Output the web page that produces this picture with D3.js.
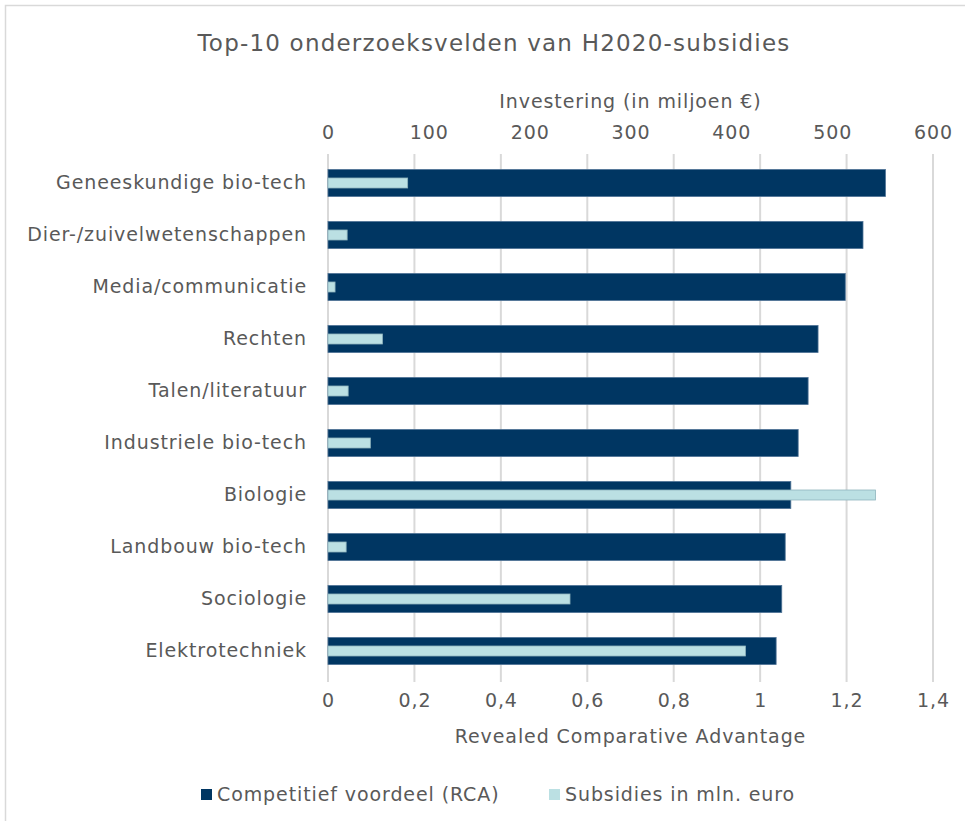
<!DOCTYPE html>
<html>
<head>
<meta charset="utf-8">
<script src="https://cdn.jsdelivr.net/npm/d3@7"></script>
<style>
  body { margin: 0; background: #ffffff; }
  text { font-family: "DejaVu Sans", Verdana, sans-serif; fill: #595959; }
</style>
</head>
<body>
<div id="plot"></div>
<script>
// Top-10 onderzoeksvelden, RCA + H2020 subsidies

var categories = [
  "Geneeskundige bio-tech",
  "Dier-/zuivelwetenschappen",
  "Media/communicatie",
  "Rechten",
  "Talen/literatuur",
  "Industriele bio-tech",
  "Biologie",
  "Landbouw bio-tech",
  "Sociologie",
  "Elektrotechniek"
];
var rcaValues = [1.29, 1.238, 1.197, 1.134, 1.111, 1.088, 1.071, 1.058, 1.05, 1.037];
var subsidyValues = [79, 19, 7, 54, 20, 42, 543, 18, 240, 414];
var rcaTicks = [0, 0.2, 0.4, 0.6, 0.8, 1, 1.2, 1.4];
var investTicks = [0, 100, 200, 300, 400, 500, 600];
var seriesNames = ["Competitief voordeel (RCA)", "Subsidies in mln. euro"];

var svgWidth = 965;
var svgHeight = 821;

var margin = {
  top: 157,
  right: 32,
  bottom: 144,
  left: 328
};

var width = svgWidth - margin.left - margin.right;
var height = svgHeight - margin.top - margin.bottom;

var darkBlue = "#003662";
var lightBlue = "#bbe0e3";
var gridColor = "#d9d9d9";
var labelSpacing = "0.9px";

var svg = d3.select("#plot")
  .append("svg")
  .attr("width", svgWidth)
  .attr("height", svgHeight);

// chart border
svg.append("rect")
  .attr("x", 5.5)
  .attr("y", 5.5)
  .attr("width", svgWidth)
  .attr("height", svgHeight)
  .attr("fill", "none")
  .attr("stroke", gridColor)
  .attr("stroke-width", 1.5);

var chartGroup = svg.append("g")
  .attr("transform", `translate(${margin.left}, ${margin.top})`);

// Step 1: scales
// ==============================
var yBandScale = d3.scaleBand()
  .domain(categories)
  .range([0, height])
  .paddingInner(0.48)
  .paddingOuter(0.24);

var xRcaScale = d3.scaleLinear()
  .domain([0, 1.4])
  .range([0, width]);

var xInvestScale = d3.scaleLinear()
  .domain([0, 600])
  .range([0, width]);

// Step 2: gridlines
// ==============================
chartGroup.append("g")
  .selectAll("line")
  .data(rcaTicks)
  .enter()
  .append("line")
  .attr("x1", d => xRcaScale(d))
  .attr("x2", d => xRcaScale(d))
  .attr("y1", -3)
  .attr("y2", height + 5)
  .attr("stroke", gridColor)
  .attr("stroke-width", 2);

// Step 3: axes
// ==============================
var bottomAxis = d3.axisBottom(xRcaScale)
  .tickValues(rcaTicks)
  .tickSize(0)
  .tickPadding(17)
  .tickFormat(d => d3.format("~g")(d).replace(".", ","));

var topAxis = d3.axisTop(xInvestScale)
  .tickValues(investTicks)
  .tickSize(0)
  .tickPadding(18);

var leftAxis = d3.axisLeft(yBandScale)
  .tickSize(0)
  .tickPadding(21);

var bottomG = chartGroup.append("g")
  .attr("transform", `translate(0, ${height})`)
  .call(bottomAxis);

var topG = chartGroup.append("g")
  .call(topAxis);

var leftG = chartGroup.append("g")
  .call(leftAxis);

[bottomG, topG, leftG].forEach(function (g) {
  g.select(".domain").remove();
  g.selectAll("text")
    .style("font-family", "DejaVu Sans, sans-serif")
    .attr("fill", "#595959")
    .style("font-size", "19px")
    .style("letter-spacing", labelSpacing);
});

// Step 4: bars
// ==============================
var barHeight = yBandScale.bandwidth();
var subHeight = 10;

chartGroup.append("g")
  .selectAll("rect")
  .data(categories)
  .enter()
  .append("rect")
  .attr("x", 0)
  .attr("y", d => yBandScale(d))
  .attr("width", (d, i) => xRcaScale(rcaValues[i]))
  .attr("height", barHeight)
  .attr("fill", darkBlue)
  .attr("stroke", "#4f7396")
  .attr("stroke-width", 0.8);

chartGroup.append("g")
  .selectAll("rect")
  .data(categories)
  .enter()
  .append("rect")
  .attr("x", 0)
  .attr("y", d => yBandScale(d) + barHeight / 2 - subHeight / 2)
  .attr("width", (d, i) => xInvestScale(subsidyValues[i]))
  .attr("height", subHeight)
  .attr("fill", lightBlue)
  .attr("stroke", "#8fb4bd")
  .attr("stroke-width", 0.8);

// Step 5: titles
// ==============================
svg.append("text")
  .attr("x", 494)
  .attr("y", 51)
  .attr("text-anchor", "middle")
  .style("font-size", "23px")
  .style("letter-spacing", "1.2px")
  .text("Top-10 onderzoeksvelden van H2020-subsidies");

svg.append("text")
  .attr("x", margin.left + width / 2)
  .attr("y", 108)
  .attr("text-anchor", "middle")
  .style("font-size", "19px")
  .style("letter-spacing", labelSpacing)
  .text("Investering (in miljoen €)");

svg.append("text")
  .attr("x", margin.left + width / 2)
  .attr("y", 743)
  .attr("text-anchor", "middle")
  .style("font-size", "19px")
  .style("letter-spacing", labelSpacing)
  .text("Revealed Comparative Advantage");

// Step 6: legend
// ==============================
var legendX = [201, 549];
var legendColors = [darkBlue, lightBlue];
var legend = svg.append("g")
  .selectAll("g")
  .data(seriesNames)
  .enter()
  .append("g")
  .attr("transform", (d, i) => `translate(${legendX[i]}, 789)`);

legend.append("rect")
  .attr("width", 11)
  .attr("height", 11)
  .attr("fill", (d, i) => legendColors[i]);

legend.append("text")
  .attr("x", 16)
  .attr("y", 12)
  .style("font-size", "19px")
  .style("letter-spacing", labelSpacing)
  .text(d => d);
</script>
</body>
</html>
